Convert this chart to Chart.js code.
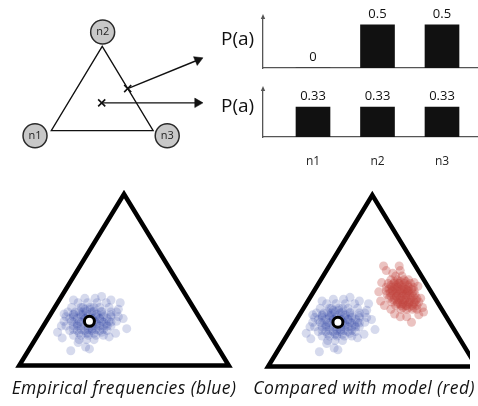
<!DOCTYPE html>
<html>
<head>
<meta charset="utf-8">
<script src="https://cdn.jsdelivr.net/npm/chart.js@4.4.1/dist/chart.umd.min.js"></script>
<style>
  html, body { margin: 0; padding: 0; background: #fff; }
  #page { position: relative; width: 478px; height: 406px; overflow: hidden;
          font-family: "Open Sans", sans-serif; color: #111; }
  canvas, .lbl { position: absolute; }
  .pa  { font-size: 19px; line-height: 20px; }
  .cap { font-size: 17.5px; line-height: 20px; letter-spacing: 0.4px; font-style: italic;
         text-align: center; white-space: nowrap; }
</style>
</head>
<body>
<div id="page">
  <canvas id="simplex"   width="222" height="172" style="left:0;top:0"></canvas>
  <canvas id="barTop"    width="220" height="72"  style="left:258px;top:0"></canvas>
  <canvas id="barBottom" width="220" height="92"  style="left:258px;top:78px"></canvas>
  <canvas id="empirical" width="248" height="205" style="left:0;top:175px"></canvas>
  <canvas id="compared"  width="230" height="205" style="left:248px;top:175px"></canvas>
  <div class="lbl pa" style="left:221px;top:28px">P(a)</div>
  <div class="lbl pa" style="left:221px;top:95px">P(a)</div>
  <div class="lbl cap" style="left:0;top:377px;width:248px">Empirical frequencies (blue)</div>
  <div class="lbl cap" style="left:250px;top:377px;width:228px">Compared with model (red)</div>
</div>
<script>
// ---- data ----
const nodes = ["n1", "n2", "n3"];
const distA = [0, 0.5, 0.5];       // point on the n2-n3 edge
const distB = [0.33, 0.33, 0.33];  // centre of the simplex

// simplex-plane positions, % of base width / % of triangle height
const blueMean = [33.5, 25.8];
const blueCloud = [
  [28.1,36.6],[32.6,36.6],[37.1,36.6],[41.5,36.6],
  [25.0,33.9],[29.5,33.9],[33.9,33.9],[38.4,33.9],[42.9,33.9],
  [23.2,31.2],[26.8,31.2],[30.4,31.2],[34.8,31.2],[39.3,31.2],[43.8,31.2],[46.4,31.2],
  [22.3,28.5],[25.9,28.5],[29.5,28.5],[33.0,28.5],[36.6,28.5],[40.2,28.5],[43.8,28.5],[47.3,28.5],
  [21.4,25.8],[25.0,25.8],[28.6,25.8],[32.1,25.8],[35.7,25.8],[39.3,25.8],[42.9,25.8],[46.4,25.8],
  [22.3,23.1],[25.9,23.1],[29.5,23.1],[33.0,23.1],[36.6,23.1],[40.2,23.1],[43.8,23.1],
  [24.1,20.4],[27.7,20.4],[31.3,20.4],[34.8,20.4],[38.4,20.4],[42.0,20.4],
  [25.9,17.7],[29.5,17.7],[33.0,17.7],[36.6,17.7],[40.2,17.7],
  [28.6,15.1],[32.1,15.1],[35.7,15.1],
  [30.4,29.6],[34.8,27.4],[37.1,24.2],[33.9,32.8],[31.3,27.4],[38.4,27.4],[27.7,24.2],
  [34.8,21.5],[31.3,32.8],[37.1,30.1],[41.5,24.2],[25.9,30.1],[33.0,18.8],[39.3,19.4],
  [28.6,31.7],[32.1,31.7],[35.7,31.7],[39.3,31.7],
  [25.9,29.6],[29.5,29.6],[33.0,29.6],[36.6,29.6],[40.2,29.6],[43.8,29.6],
  [24.1,27.4],[27.7,27.4],[31.3,27.4],[34.8,27.4],[38.4,27.4],[42.0,27.4],
  [25.9,25.3],[29.5,25.3],[33.0,25.3],[36.6,25.3],[40.2,25.3],[43.8,25.3],
  [27.7,23.1],[31.3,23.1],[34.8,23.1],[38.4,23.1],[42.0,23.1],
  [25.9,21.0],[29.5,21.0],[33.0,21.0],[36.6,21.0],[40.2,21.0],
  [28.6,18.8],[32.1,18.8],[35.7,18.8],[30.4,33.9],[35.7,33.9],
  [18.3,19.4],[20.5,16.1],[24.6,8.6],[28.1,13.4],[31.7,10.8],[33.5,9.7],[48.2,36.6],
  [51.3,21.5],[46.0,18.8],[42.9,16.7],[31.3,39.2],[43.8,38.2],[21.4,30.1],[39.3,40.3],
  [36.2,39.2],[47.3,32.8],[49.6,27.4],[20.1,23.1],[25.9,38.2]
];
const redCloud = [
  [61.2,52.7],[64.3,52.7],
  [58.9,50.5],[62.1,50.5],[65.2,50.5],[67.4,50.5],
  [57.6,48.4],[60.3,48.4],[62.9,48.4],[65.6,48.4],[68.3,48.4],
  [56.7,46.2],[59.4,46.2],[62.1,46.2],[64.7,46.2],[67.4,46.2],[69.6,46.2],
  [56.7,44.1],[59.4,44.1],[62.1,44.1],[64.7,44.1],[67.4,44.1],[70.1,44.1],
  [57.1,41.9],[59.8,41.9],[62.5,41.9],[65.2,41.9],[67.9,41.9],[70.5,41.9],
  [58.0,39.8],[60.7,39.8],[63.4,39.8],[66.1,39.8],[68.8,39.8],[71.4,39.8],
  [59.4,37.6],[62.1,37.6],[64.7,37.6],[67.4,37.6],[70.1,37.6],[72.3,37.6],
  [61.2,35.5],[63.8,35.5],[66.5,35.5],[69.2,35.5],[71.4,35.5],
  [63.8,33.3],[66.5,33.3],[69.2,33.3],[71.4,33.3],
  [60.7,46.2],[63.4,44.1],[66.1,41.9],[61.6,40.9],[64.3,38.7],[67.0,44.1],
  [62.5,48.4],[67.9,37.6],[65.2,45.2],[63.4,36.6],[59.8,44.1],[66.1,35.5],
  [60.7,49.5],[63.4,49.5],[66.1,49.5],
  [58.9,47.3],[61.6,47.3],[64.3,47.3],[67.0,47.3],
  [58.0,45.2],[60.7,45.2],[63.4,45.2],[66.1,45.2],[68.8,45.2],
  [58.5,43.0],[61.2,43.0],[63.8,43.0],[66.5,43.0],[69.2,43.0],
  [58.9,40.9],[61.6,40.9],[64.3,40.9],[67.0,40.9],[69.6,40.9],
  [60.3,38.7],[62.9,38.7],[65.6,38.7],[68.3,38.7],[71.0,38.7],
  [62.1,36.6],[64.7,36.6],[67.4,36.6],[70.1,36.6],
  [64.7,34.4],[67.4,34.4],[70.1,34.4],
  [55.4,58.6],[62.9,58.6],[63.4,55.9],[59.8,54.3],[53.1,43.5],[54.5,48.9],[70.1,48.9],
  [71.9,46.8],[74.1,34.4],[74.6,31.7],[72.3,30.1],[68.8,25.8],[60.7,30.6],[63.4,29.0],
  [58.9,33.3],[54.0,38.2],[56.7,55.9],[73.2,39.8],[55.8,35.5],[66.5,29.0]
];

// ---- layout (pixels inside each canvas) ----
// top-left simplex: n1 corner at (left, base), side = base width, height = apex height
const TOP = { w: 222, h: 172, left: 43, base: 139, side: 116, height: 100 };
const nodeOffset = [[-18.5, 6], [0.5, -17], [16, 6]];     // circle centre vs corner
const arrowTips = [[215, 53], [215, null]];               // null = keep the cross height
const LOW_L = { w: 248, h: 205, left: 12, base: 198, side: 224, height: 186 };
const LOW_R = { w: 230, h: 205, left: 13, base: 199, side: 224, height: 186 };
const BAR_X = { first: 50, step: 64.5 };                  // bar centres from axis origin

Chart.defaults.font.family = "'Open Sans', sans-serif";
Chart.defaults.color = "#111";

function toPlane(p) { return { x: p[2] + p[1] / 2, y: p[1] }; }
function boxScales(b, unit) {
  return {
    x: { type: "linear", display: false, min: -b.left / b.side * unit, max: (b.w - b.left) / b.side * unit },
    y: { type: "linear", display: false, min: -(b.h - b.base) / b.height * unit, max: b.base / b.height * unit }
  };
}
const baseOpts = {
  responsive: false, animation: false, events: [],
  layout: { padding: 0 },
  plugins: { legend: { display: false }, tooltip: { enabled: false } }
};

// ---- top-left: simplex with two example distributions ----
const corners = [[1, 0, 0], [0, 1, 0], [0, 0, 1]].map(toPlane);
const nodePts = corners.map((c, i) => ({
  x: c.x + nodeOffset[i][0] / TOP.side,
  y: c.y - nodeOffset[i][1] / TOP.height
}));
const crosses = [toPlane(distA), toPlane(distB)];
const arrowSets = [];
crosses.forEach((c, i) => {
  const tx = (arrowTips[i][0] - TOP.left) / TOP.side;
  const ty = arrowTips[i][1] === null ? c.y : (TOP.base - arrowTips[i][1]) / TOP.height;
  // screen-space direction of the arrow
  const dx = (tx - c.x) * TOP.side, dy = -(ty - c.y) * TOP.height;
  const len = Math.hypot(dx, dy), r = 5.5;
  const head = { x: tx - dx / len * r / TOP.side, y: ty + dy / len * r / TOP.height };
  arrowSets.push({ data: [c, head], showLine: true, borderColor: "#111", borderWidth: 1.4,
                   pointRadius: 0, order: 2 });
  arrowSets.push({ data: [head], pointStyle: "triangle", pointRadius: r,
                   pointRotation: Math.atan2(dx, -dy) * 180 / Math.PI,
                   backgroundColor: "#111", borderColor: "#111", borderWidth: 0.5, order: 1 });
});

const nodeText = {
  id: "nodeText",
  afterDatasetsDraw(chart) {
    const ctx = chart.ctx, meta = chart.getDatasetMeta(1);
    ctx.save();
    ctx.font = "11px 'Open Sans', sans-serif";
    ctx.fillStyle = "#222";
    ctx.textAlign = "center";
    ctx.textBaseline = "middle";
    meta.data.forEach((pt, i) => ctx.fillText(nodes[i], pt.x, pt.y));
    ctx.restore();
  }
};

new Chart(document.getElementById("simplex"), {
  type: "scatter",
  data: { datasets: [
    { data: [corners[0], corners[2], corners[1], corners[0], corners[2]], showLine: true,
      borderColor: "#111", borderWidth: 1.3, pointRadius: 0, order: 3 },
    { data: nodePts, pointRadius: 12, backgroundColor: "#c8c8c8", borderColor: "#2b2b2b",
      borderWidth: 1.5, order: 0 },
    { data: crosses, pointStyle: "crossRot", pointRadius: 5, borderColor: "#111",
      borderWidth: 1.6, order: 1 }
  ].concat(arrowSets) },
  options: Object.assign({}, baseOpts, { scales: boxScales(TOP, 1) }),
  plugins: [nodeText]
});

// ---- top-right: the two distributions as bar charts ----
const barValues = {
  id: "barValues",
  afterDatasetsDraw(chart) {
    const ctx = chart.ctx, meta = chart.getDatasetMeta(0);
    const vals = chart.data.datasets[0].data;
    ctx.save();
    ctx.font = "13px 'Open Sans', sans-serif";
    ctx.fillStyle = "#111";
    ctx.textAlign = "center";
    ctx.textBaseline = "alphabetic";
    meta.data.forEach((bar, i) => ctx.fillText(String(vals[i].y), bar.x, bar.y - 7));
    ctx.restore();
  }
};
const axisArrow = {
  id: "axisArrow",
  afterDraw(chart) {
    const ctx = chart.ctx, a = chart.chartArea;
    ctx.save();
    ctx.fillStyle = "#555";
    ctx.beginPath();
    ctx.moveTo(a.left, a.top - 4);
    ctx.lineTo(a.left - 2.2, a.top + 1);
    ctx.lineTo(a.left + 2.2, a.top + 1);
    ctx.closePath();
    ctx.fill();
    ctx.restore();
  }
};

function barChart(id, dist, yMax, pad, showLabels) {
  const width = 220 - pad.left;
  return new Chart(document.getElementById(id), {
    type: "bar",
    data: { datasets: [{
      data: dist.map((v, i) => ({ x: i + 1, y: v })),
      backgroundColor: "#111", barThickness: 34
    }] },
    options: Object.assign({}, baseOpts, {
      layout: { padding: pad },
      scales: {
        x: {
          type: "linear", offset: false,
          min: 1 - BAR_X.first / BAR_X.step,
          max: 1 + (width - BAR_X.first) / BAR_X.step,
          grid: { display: false, drawTicks: false },
          border: { color: "#555", width: 1.3 },
          afterBuildTicks: s => { s.ticks = nodes.map((n, i) => ({ value: i + 1 })); },
          afterFit: s => { s.height = showLabels ? 33 : 0; },
          ticks: { display: showLabels, padding: 17, font: { size: 12 }, color: "#222",
                   callback: v => nodes[v - 1] }
        },
        y: {
          min: 0, max: yMax,
          grid: { display: false, drawTicks: false },
          border: { color: "#555", width: 1.3 },
          ticks: { display: false },
          afterFit: s => { s.width = 0; }
        }
      }
    }),
    plugins: [barValues, axisArrow]
  });
}
barChart("barTop", distA, 0.58, { left: 5, top: 18, right: 0, bottom: 4 }, false);
barChart("barBottom", distB, 0.52, { left: 5, top: 12, right: 0, bottom: 0 }, true);

// ---- bottom: clouds of frequencies in the simplex ----
const outline = [[0, 0], [100, 0], [50, 100], [0, 0], [100, 0]];
const pts = arr => arr.map(p => ({ x: p[0], y: p[1] }));
function cloudChart(id, box, withModel) {
  const sets = [
    { data: pts(outline), showLine: true, borderColor: "#000", borderWidth: 4.5,
      borderJoinStyle: "miter", pointRadius: 0, order: 0 },
    { data: pts([blueMean]), pointRadius: 5, backgroundColor: "#fff", borderColor: "#000",
      borderWidth: 3, order: 1 },
    { data: pts(blueCloud), pointRadius: 4.5, backgroundColor: "rgba(50,70,165,0.2)",
      borderWidth: 0, order: 3 }
  ];
  if (withModel) {
    sets.push({ data: pts(redCloud), pointRadius: 4.5, backgroundColor: "rgba(192,68,62,0.32)",
                borderWidth: 0, order: 2 });
  }
  return new Chart(document.getElementById(id), {
    type: "scatter",
    data: { datasets: sets },
    options: Object.assign({}, baseOpts, { scales: boxScales(box, 100) })
  });
}
cloudChart("empirical", LOW_L, false);
cloudChart("compared", LOW_R, true);
</script>
</body>
</html>
